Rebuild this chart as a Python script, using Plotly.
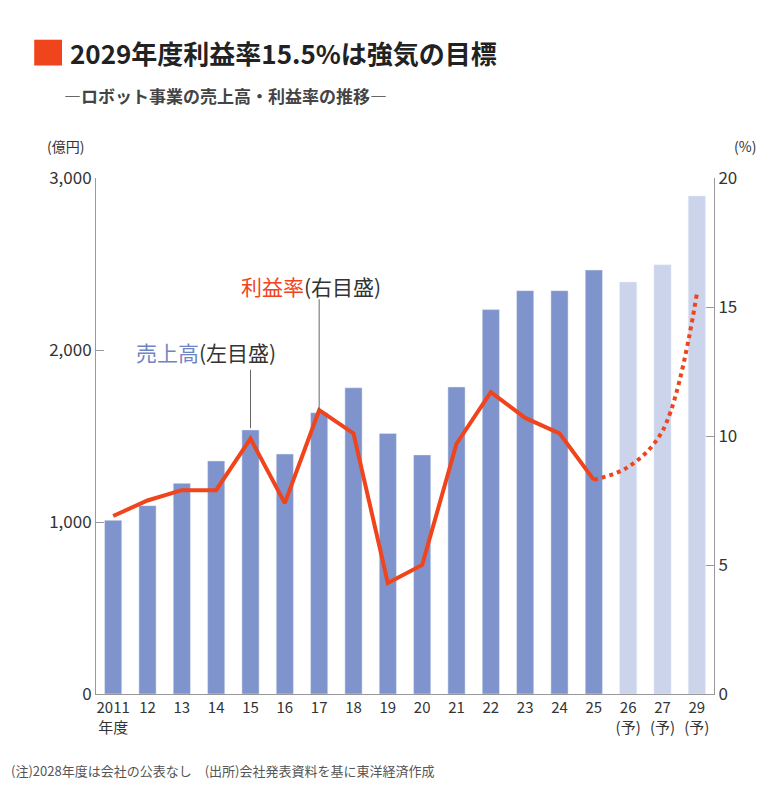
import plotly.graph_objects as go

years = ["2011", "12", "13", "14", "15", "16", "17", "18", "19", "20",
         "21", "22", "23", "24", "25", "26", "27", "29"]
tick_text = ["2011<br>年度", "12", "13", "14", "15", "16", "17", "18", "19", "20",
             "21", "22", "23", "24", "25", "26<br>(予)", "27<br>(予)", "29<br>(予)"]
sales = [1010, 1095, 1225, 1355, 1535, 1395, 1635, 1780, 1515, 1390,
         1785, 2235, 2345, 2345, 2465, 2395, 2495, 2895]
margin_actual = [6.9, 7.5, 7.9, 7.9, 9.9, 7.4, 11.0, 10.1, 4.3, 5.0,
                 9.7, 11.7, 10.7, 10.1, 8.3]
years_fc = ["25", "26", "27", "29"]
margin_fc = [8.3, 8.8, 10.2, 15.5]

bar_colors = ["#7f93cc"] * 15 + ["#ccd4ec"] * 3

fig = go.Figure()
fig.add_trace(go.Bar(x=years, y=sales, marker_color=bar_colors, width=0.5, yaxis="y"))
fig.add_trace(go.Scatter(x=years_fc, y=margin_fc, yaxis="y2", mode="lines",
                         line=dict(color="#f0441c", width=4, dash="dot", shape="spline")))
fig.add_trace(go.Scatter(x=years[:15], y=margin_actual, yaxis="y2", mode="lines",
                         line=dict(color="#f0441c", width=4)))

font = "Noto Sans CJK JP"
fig.update_layout(
    width=772, height=800, showlegend=False,
    paper_bgcolor="white", plot_bgcolor="white",
    margin=dict(l=88, r=66, t=170, b=114),
    font=dict(family=font, color="#333", size=16),
    xaxis=dict(type="category", categoryorder="array", categoryarray=years,
               tickvals=years, ticktext=tick_text, showline=True, linecolor="#999",
               tickfont=dict(size=15)),
    yaxis=dict(range=[0, 3000], tickvals=[0, 1000, 2000, 3000], tickformat=",",
               showgrid=False, showline=True, linecolor="#999", ticks="inside",
               ticklen=8, tickcolor="#999", tickfont=dict(size=17), zeroline=False),
    yaxis2=dict(range=[0, 20], tickvals=[0, 5, 10, 15, 20], overlaying="y", side="right",
                showgrid=False, showline=True, linecolor="#999", ticks="inside",
                ticklen=8, tickcolor="#999", tickfont=dict(size=17), zeroline=False),
)

fig.add_shape(type="rect", xref="paper", yref="paper", x0=-0.1, x1=-0.055,
              y0=1.218, y1=1.268, fillcolor="#f0441c", line_width=0)
fig.add_annotation(xref="paper", yref="paper", x=-0.045, y=1.243, xanchor="left",
                   yanchor="middle", showarrow=False,
                   text="<b>2029年度利益率15.5%は強気の目標</b>",
                   font=dict(size=26, color="#222"))
fig.add_annotation(xref="paper", yref="paper", x=-0.055, y=1.16, xanchor="left",
                   yanchor="middle", showarrow=False,
                   text="<b>―ロボット事業の売上高・利益率の推移―</b>",
                   font=dict(size=17, color="#444"))
fig.add_annotation(xref="paper", yref="paper", x=-0.05, y=1.085, xanchor="center",
                   showarrow=False, text="(億円)", font=dict(size=14))
fig.add_annotation(xref="paper", yref="paper", x=1.05, y=1.085, xanchor="center",
                   showarrow=False, text="(%)", font=dict(size=14))
fig.add_annotation(xref="paper", yref="paper", x=-0.14, y=-0.17, xanchor="left",
                   showarrow=False,
                   text="(注)2028年度は会社の公表なし　(出所)会社発表資料を基に東洋経済作成",
                   font=dict(size=13, color="#555"))

# labels with leader lines (category index: 4 -> "15", 6 -> "17")
fig.add_shape(type="line", xref="x", yref="y", x0=4, x1=4, y0=1545, y1=1885,
              line=dict(color="#666", width=1))
fig.add_annotation(xref="x", yref="y", x=4, y=1990, xanchor="center", showarrow=False,
                   xshift=-45, text="<span style='color:#6f84c4'>売上高</span>(左目盛)",
                   font=dict(size=21, color="#333"))
fig.add_shape(type="line", xref="x", yref="y2", x0=6, x1=6, y0=11.0, y1=15.3,
              line=dict(color="#666", width=1))
fig.add_annotation(xref="x", yref="y2", x=6, y=15.8, xanchor="center", showarrow=False,
                   xshift=-8, text="<span style='color:#f0441c'>利益率</span>(右目盛)",
                   font=dict(size=21, color="#333"))

fig.write_html("out.html")
